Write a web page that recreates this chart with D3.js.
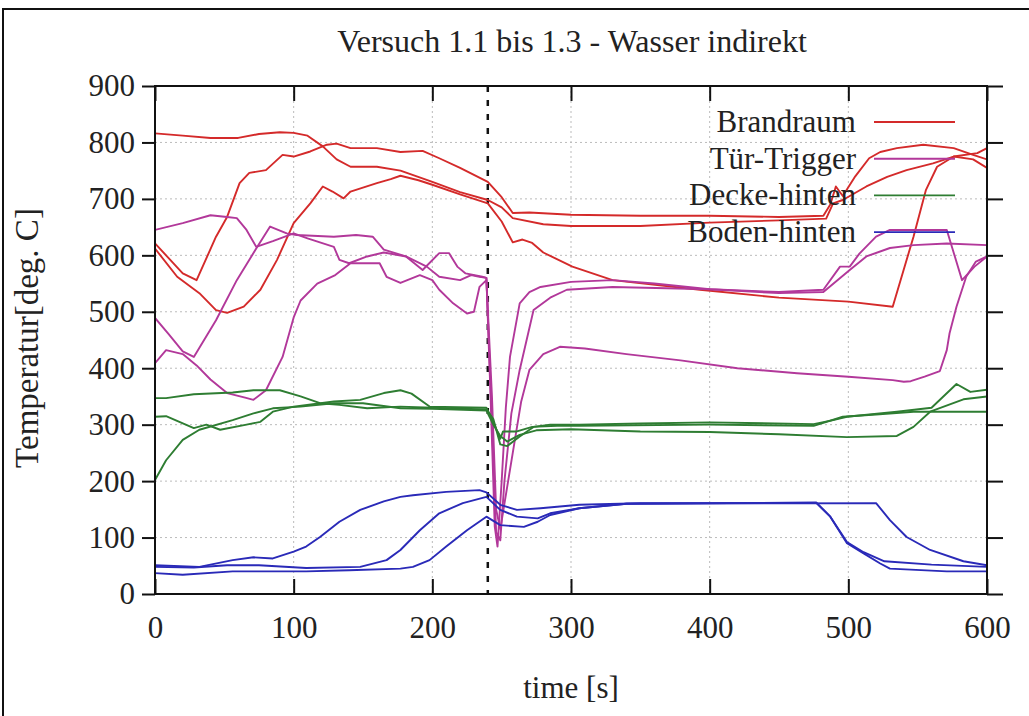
<!DOCTYPE html>
<html>
<head>
<meta charset="utf-8">
<script src="https://cdn.jsdelivr.net/npm/d3@7"></script>
<style>
  body { margin: 0; background: #fff; }
  svg { display: block; }
  svg text { font-family: 'Liberation Serif', 'Times New Roman', Times, 'Nimbus Roman', 'DejaVu Serif', serif !important; fill: #222; }
</style>
</head>
<body>
<svg id="chart" width="1029" height="716"></svg>
<script>
// series names and colours
const seriesNames = ['Brandraum', 'Tür-Trigger', 'Decke-hinten', 'Boden-hinten'];
const seriesColors = ['#d42a2a', '#b2389a', '#2e7d32', '#2a2ab8'];

const xTicks = [0, 100, 200, 300, 400, 500, 600];
const yTicks = [0, 100, 200, 300, 400, 500, 600, 700, 800, 900];
const triggerTime = 240;

// [time s, temperature deg C], three runs per sensor
const brandraum1 = [[0,816],[20,812],[40,808],[60,808],[75,815],[90,818],[100,817],[110,812],[121,793],[131,770],[141,757],[160,757],[177,750],[200,730],[220,712],[240,698],[250,685],[258,666],[280,655],[300,652],[350,652],[400,658],[450,662],[484,665],[489,692],[496,698],[513,722],[528,739],[542,751],[561,763],[576,775],[590,770],[600,755]];
const brandraum2 = [[0,621],[11,592],[20,568],[30,556],[44,633],[52,668],[61,728],[68,746],[80,751],[92,778],[100,775],[112,784],[124,796],[131,798],[141,790],[160,790],[177,783],[193,785],[205,772],[220,755],[240,730],[250,703],[258,675],[270,676],[300,672],[350,670],[400,670],[450,668],[482,670],[487,690],[491,722],[496,705],[505,740],[515,772],[523,783],[535,790],[554,796],[576,790],[590,778],[600,770]];
const brandraum3 = [[0,612],[16,562],[32,533],[44,503],[52,498],[64,509],[76,539],[88,592],[100,657],[112,692],[121,722],[128,713],[136,701],[141,713],[160,728],[170,735],[177,741],[190,733],[200,725],[220,708],[240,692],[250,660],[258,623],[265,628],[272,622],[280,605],[301,580],[330,556],[393,539],[450,525],[500,518],[532,509],[547,633],[556,716],[564,757],[576,775],[593,781],[600,790]];

const tuer1 = [[0,645],[20,657],[40,671],[52,668],[59,666],[66,645],[73,615],[85,625],[100,639],[110,630],[129,615],[133,592],[140,586],[153,598],[165,605],[181,598],[193,574],[205,604],[212,604],[218,580],[224,568],[236,562],[239,560],[242,350],[245,120],[247,84],[250,200],[253,330],[256,420],[263,515],[270,535],[278,544],[300,553],[330,556],[360,550],[400,540],[450,535],[482,539],[494,580],[501,580],[508,603],[520,633],[530,645],[571,645],[582,556],[591,580],[600,598]];
const tuer2 = [[0,489],[10,460],[20,430],[28,420],[44,485],[59,556],[73,612],[83,651],[95,639],[102,636],[129,633],[145,636],[157,633],[165,610],[181,598],[196,580],[205,562],[220,556],[228,565],[234,562],[239,560],[243,300],[246,110],[249,95],[252,200],[257,320],[263,397],[273,503],[285,525],[297,539],[330,544],[400,540],[450,533],[482,535],[501,574],[513,598],[530,613],[547,618],[571,621],[600,618]];
const tuer3 = [[0,409],[8,432],[20,425],[30,405],[40,380],[52,356],[65,348],[71,344],[80,361],[92,420],[100,490],[105,520],[117,550],[130,565],[141,586],[152,586],[162,586],[167,562],[177,551],[191,565],[200,556],[205,539],[215,515],[225,497],[230,500],[234,544],[239,556],[243,350],[246,150],[249,115],[252,160],[258,250],[264,340],[270,397],[280,425],[292,438],[310,435],[340,425],[379,414],[420,400],[463,391],[500,385],[532,379],[540,376],[545,377],[555,385],[566,395],[571,432],[573,462],[578,509],[585,562],[592,589],[600,598]];

const decke1 = [[0,347],[8,347],[28,354],[56,357],[71,361],[90,361],[105,350],[119,338],[133,335],[153,329],[177,332],[200,330],[239,327],[244,310],[249,265],[254,262],[263,279],[273,296],[285,300],[306,300],[350,302],[400,304],[475,301],[489,308],[499,314],[535,323],[560,330],[578,372],[588,358],[600,362]];
const decke2 = [[0,314],[8,315],[28,294],[37,300],[47,291],[66,300],[76,305],[85,323],[100,332],[129,341],[148,344],[165,356],[177,361],[185,355],[198,332],[239,330],[244,305],[249,275],[251,288],[261,288],[272,296],[290,298],[306,298],[400,300],[475,298],[496,314],[520,318],[547,323],[600,323]];
const decke3 = [[0,202],[8,237],[20,273],[32,291],[56,308],[71,320],[85,329],[105,332],[129,338],[150,338],[177,329],[200,328],[239,325],[244,300],[249,280],[254,270],[263,282],[275,290],[300,292],[350,288],[400,287],[450,283],[499,278],[535,280],[547,296],[559,323],[583,345],[600,350]];

const boden1 = [[0,51],[32,48],[56,60],[71,65],[85,63],[100,75],[109,84],[119,101],[133,128],[148,149],[165,164],[177,172],[186,175],[210,181],[234,184],[239,180],[249,158],[261,149],[278,152],[306,158],[350,161],[477,161],[487,137],[499,90],[511,72],[523,54],[530,45],[571,40],[600,40]];
const boden2 = [[0,48],[28,47],[52,51],[75,51],[109,46],[148,48],[167,60],[177,78],[191,113],[205,143],[222,161],[239,172],[249,149],[261,137],[276,134],[285,143],[306,152],[340,160],[477,162],[487,137],[499,92],[511,74],[526,58],[560,52],[600,48]];
const boden3 = [[0,37],[20,34],[56,40],[109,40],[140,42],[177,45],[186,48],[198,60],[210,84],[225,113],[239,137],[249,122],[266,119],[276,128],[285,140],[306,152],[340,160],[520,161],[530,131],[542,101],[559,78],[583,58],[600,51]];

const runs = [
  [brandraum1, brandraum2, brandraum3],
  [tuer1, tuer2, tuer3],
  [decke1, decke2, decke3],
  [boden1, boden2, boden3]
];

const svg = d3.select('#chart');
const plotLeft = 155, plotRight = 987, plotTop = 86, plotBottom = 594;

const x = d3.scaleLinear().domain([0, 600]).range([plotLeft, plotRight]);
const y = d3.scaleLinear().domain([0, 900]).range([plotBottom, plotTop]);

// outer frame
svg.append('rect')
  .attr('x', 3).attr('y', 9).attr('width', 1040).attr('height', 720)
  .attr('fill', 'none').attr('stroke', '#111').attr('stroke-width', 2);

// grid
const grid = svg.append('g').attr('stroke', '#bbb').attr('stroke-width', 1).attr('stroke-dasharray', '2,3');
grid.selectAll('.gx').data(xTicks.slice(1, -1)).enter().append('line')
  .attr('x1', d => x(d)).attr('x2', d => x(d)).attr('y1', plotTop).attr('y2', plotBottom);
grid.selectAll('.gy').data(yTicks.slice(1, -1)).enter().append('line')
  .attr('y1', d => y(d)).attr('y2', d => y(d)).attr('x1', plotLeft).attr('x2', plotRight);

// trigger line
svg.append('line')
  .attr('x1', x(triggerTime)).attr('x2', x(triggerTime))
  .attr('y1', plotTop).attr('y2', plotBottom)
  .attr('stroke', '#111').attr('stroke-width', 2.5).attr('stroke-dasharray', '6,8');

// curves
svg.append('clipPath').attr('id', 'clip').append('rect')
  .attr('x', plotLeft).attr('y', plotTop).attr('width', plotRight - plotLeft).attr('height', plotBottom - plotTop);

const line = d3.line().x(d => x(d[0])).y(d => y(d[1]));
const curves = svg.append('g').attr('clip-path', 'url(#clip)');
runs.forEach((set, i) => {
  set.forEach(run => {
    curves.append('path')
      .datum(run)
      .attr('fill', 'none')
      .attr('stroke', seriesColors[i])
      .attr('stroke-width', 1.9)
      .attr('stroke-linejoin', 'round')
      .attr('d', line);
  });
});

// axes
const fontSize = 31;
const styleAxis = g => {
  g.attr('font-family', null);
  g.select('.domain').remove();
  g.selectAll('.tick line').attr('stroke', '#111').attr('stroke-width', 2);
  g.selectAll('.tick text')
    .style('font-size', fontSize + 'px').attr('fill', '#222');
};

svg.append('g').attr('transform', `translate(${plotLeft},0)`)
  .call(d3.axisLeft(y).tickValues(yTicks).tickSize(13).tickPadding(7))
  .call(styleAxis);
svg.append('g').attr('transform', `translate(${plotRight},0)`)
  .call(d3.axisRight(y).tickValues(yTicks).tickSize(16).tickFormat(''))
  .call(styleAxis);
svg.append('g').attr('transform', `translate(0,${plotBottom})`)
  .call(d3.axisBottom(x).tickValues(xTicks).tickSizeInner(-15).tickSizeOuter(0).tickPadding(22))
  .call(styleAxis);
svg.append('g').attr('transform', `translate(0,${plotTop})`)
  .call(d3.axisTop(x).tickValues(xTicks).tickSizeInner(-15).tickSizeOuter(0).tickFormat(''))
  .call(styleAxis);

// plot border
svg.append('rect')
  .attr('x', plotLeft).attr('y', plotTop).attr('width', plotRight - plotLeft).attr('height', plotBottom - plotTop)
  .attr('fill', 'none').attr('stroke', '#111').attr('stroke-width', 2);

// legend
const legend = svg.append('g');
seriesNames.forEach((name, i) => {
  const ly = 122 + i * 36.7;
  legend.append('text')
    .attr('x', 856).attr('y', ly + 10)
    .attr('text-anchor', 'end')
    .style('font-size', fontSize + 'px')
    .text(name);
  legend.append('line')
    .attr('x1', 874).attr('x2', 955).attr('y1', ly).attr('y2', ly)
    .attr('stroke', seriesColors[i]).attr('stroke-width', 1.9);
});

// titles
svg.append('text')
  .attr('x', 572).attr('y', 52).attr('text-anchor', 'middle')
  .style('font-size', '32px')
  .text('Versuch 1.1 bis 1.3 - Wasser indirekt');
svg.append('text')
  .attr('x', 571).attr('y', 698).attr('text-anchor', 'middle')
  .style('font-size', '31px')
  .text('time [s]');
svg.append('text')
  .attr('transform', 'translate(38,338) rotate(-90)')
  .attr('text-anchor', 'middle')
  .style('font-size', '33px')
  .text('Temperatur[deg. C]');
</script>
</body>
</html>
